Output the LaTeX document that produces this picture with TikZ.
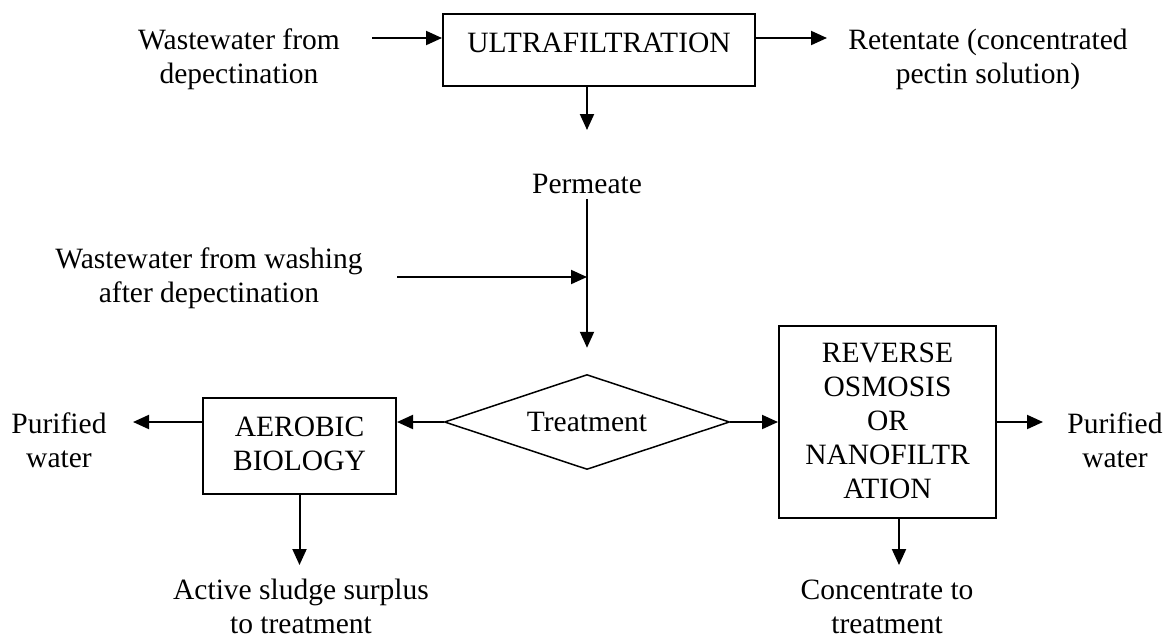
\documentclass[tikz,border=0pt]{standalone}
\usepackage{fontspec}
\setmainfont{Liberation Serif}
\usetikzlibrary{arrows.meta,shapes.geometric}
\begin{document}
\begin{tikzpicture}[x=1pt,y=-1pt,
  every node/.style={font=\fontsize{29.5}{34}\selectfont, inner sep=0pt, align=center},
  txt/.style={anchor=base},
  unit/.style={draw, line width=2pt, anchor=base},
  arr/.style={line width=2pt, -{Triangle[length=16pt,width=14pt]}},
]
\useasboundingbox (0,0) rectangle (1166,638);

% process units (anchored at the baseline of their last text line)
\node[unit, minimum width=312pt, text height=38pt, text depth=34pt] (uf) at (599,52) {ULTRAFILTRATION};
\node[draw, diamond, aspect=3, minimum width=285pt, minimum height=95pt, line width=1.5pt] (treat) at (587,422) {Treatment};
\node[unit, minimum width=193pt, text height=72pt, text depth=24pt] (aer) at (299.5,470) {AEROBIC\\BIOLOGY};
\node[unit, minimum width=217pt, text height=172pt, text depth=20pt] (ro) at (887.5,498) {REVERSE\\OSMOSIS\\OR\\NANOFILTR\\ATION};

% stream labels
\node[txt] (wdp) at (239,83) {Wastewater from\\depectination};
\node[txt] (ret) at (988,83) {Retentate (concentrated\\pectin solution)};
\node[txt] (perm) at (587,193) {Permeate};
\node[txt] (wash) at (209,302) {Wastewater from washing\\after depectination};
\node[txt] (pwl) at (59,467) {Purified\\water};
\node[txt] (pwr) at (1115,467) {Purified\\water};
\node[txt] (sludge) at (301,633) {Active sludge surplus\\to treatment};
\node[txt] (conc) at (887,633) {Concentrate to\\treatment};

% free ends of the streams
\coordinate (a1) at (372,38);
\coordinate (a2) at (827,38);
\coordinate (a3) at (587,130);
\coordinate (wtail) at (397,277);
\coordinate (join) at (587,277);
\coordinate (a4) at (133,422);
\coordinate (a5) at (1043,422);
\coordinate (a6) at (299.5,565);
\coordinate (a7) at (899,565);

% streams
\draw[arr] (a1) -- (a1 -| uf.west);
\draw[arr] (a2 -| uf.east) -- (a2);
\draw[arr] (a3 |- uf.south) -- (a3);
\draw[arr] ([yshift=-6pt]perm.south) -- ([yshift=26pt]treat.north);
\draw[arr] (wtail) -- (join);
\draw[arr] (treat.west) -- (treat.west -| aer.east);
\draw[arr] (a4 -| aer.west) -- (a4);
\draw[arr] (treat.east) -- (treat.east -| ro.west);
\draw[arr] (a5 -| ro.east) -- (a5);
\draw[arr] (a6 |- aer.south) -- (a6);
\draw[arr] (a7 |- ro.south) -- (a7);
\end{tikzpicture}
\end{document}
